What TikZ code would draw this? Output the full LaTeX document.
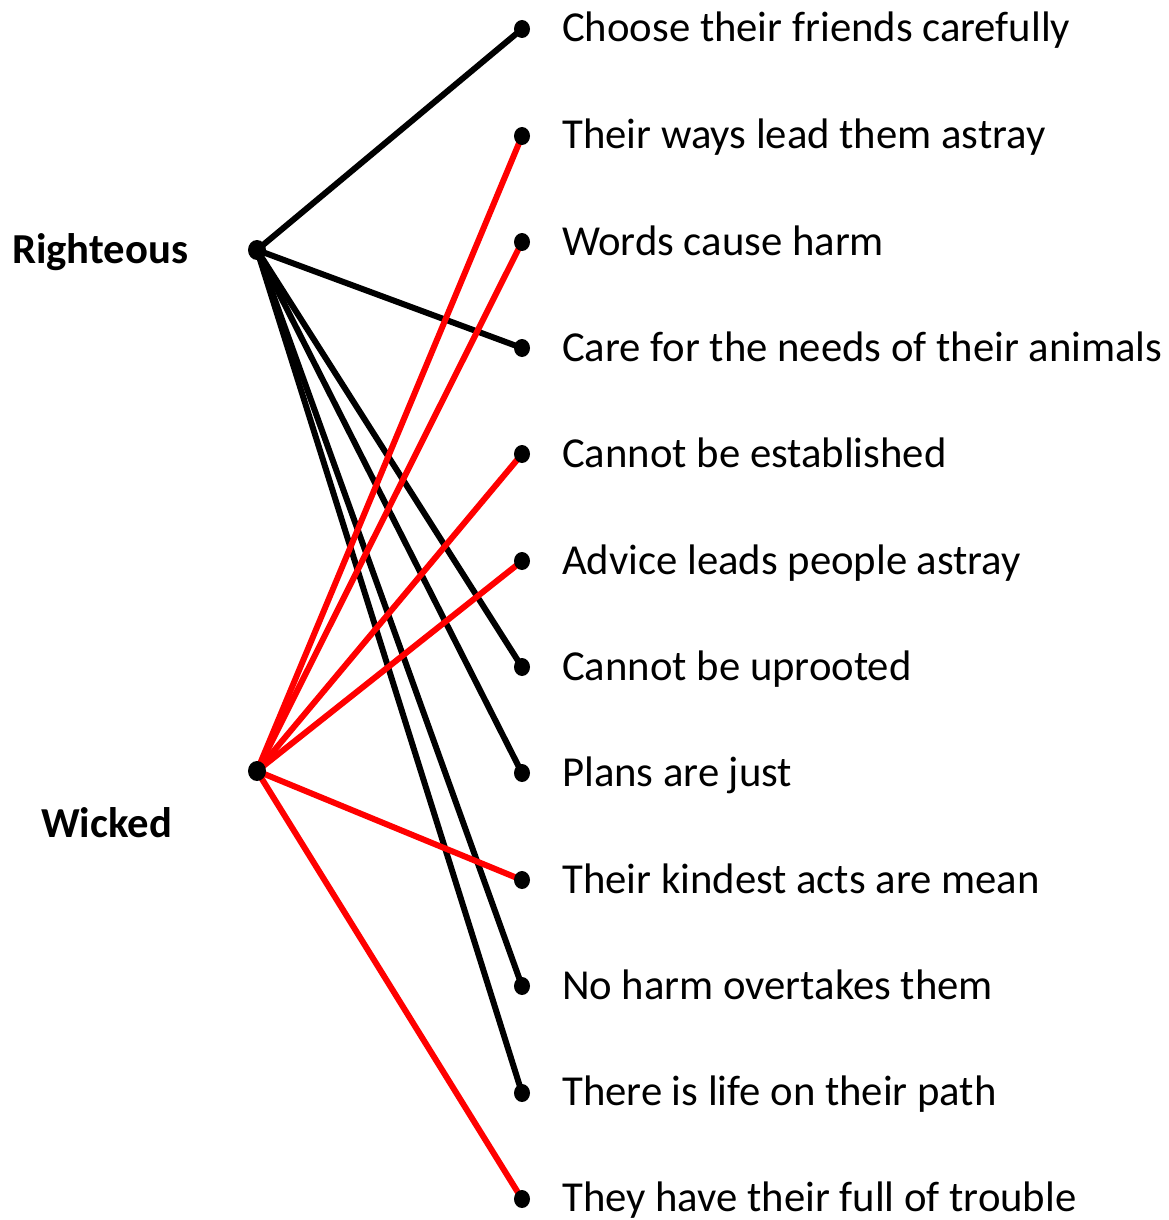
\documentclass[tikz,border=0pt]{standalone}
\usepackage{fontspec}
\setmainfont{Carlito}

\tikzset{
  dot/.style={fill=black},
  good/.style={draw=black, line width=6pt},
  bad/.style={draw=red, line width=6pt},
  item/.style={anchor=base west, inner sep=0pt, font=\fontsize{42.7}{50}\selectfont},
  side/.style={anchor=base west, inner sep=0pt, font=\fontsize{42.7}{50}\selectfont\bfseries}
}

\begin{document}
\begin{tikzpicture}[x=1pt, y=-1pt]
        \useasboundingbox (0,0) rectangle (1168,1220);
        \coordinate (R) at (257,250);
        \coordinate (W) at (257,771);
        \coordinate (A1) at (522,29);
        \coordinate (A2) at (522,136);
        \coordinate (A3) at (522,242);
        \coordinate (A4) at (522,348);
        \coordinate (A5) at (522,454);
        \coordinate (A6) at (522,561);
        \coordinate (A7) at (522,667);
        \coordinate (A8) at (522,773);
        \coordinate (A9) at (522,880);
        \coordinate (A10) at (522,986);
        \coordinate (A11) at (522,1093);
        \coordinate (A12) at (522,1199);
        \node[side] (LR) at (12,263) {Righteous};
        \node[side] (LW) at (41,837) {Wicked};
        % righteous
        \draw[good] (R) -- (A1);
        \draw[good] (R) -- (A4);
        \draw[good] (R) -- (A7);
        \draw[good] (R) -- (A8);
        \draw[good] (R) -- (A10);
        \draw[good] (R) -- (A11);
        % wicked
        \draw[bad] (W) -- (A2);
        \draw[bad] (W) -- (A3);
        \draw[bad] (W) -- (A5);
        \draw[bad] (W) -- (A6);
        \draw[bad] (W) -- (A9);
        \draw[bad] (W) -- (A12);
        \fill[dot] (R) ellipse[x radius=9, y radius=10];
        \fill[dot] (W) ellipse[x radius=9, y radius=10];
        \foreach \i in {1,...,12}
          \fill[dot] (A\i) ellipse[x radius=8, y radius=9];
        \node[item] (T1) at (562,42) {Choose their friends carefully};
        \node[item] (T2) at (562,149) {Their ways lead them astray};
        \node[item] (T3) at (562,255) {Words cause harm};
        \node[item] (T4) at (562,361) {Care for the needs of their animals};
        \node[item] (T5) at (562,467) {Cannot be established};
        \node[item] (T6) at (562,574) {Advice leads people astray};
        \node[item] (T7) at (562,680) {Cannot be uprooted};
        \node[item] (T8) at (562,786) {Plans are just};
        \node[item] (T9) at (562,893) {Their kindest acts are mean};
        \node[item] (T10) at (562,999) {No harm overtakes them};
        \node[item] (T11) at (562,1105) {There is life on their path};
        \node[item] (T12) at (562,1211) {They have their full of trouble};
      \end{tikzpicture}
\end{document}
